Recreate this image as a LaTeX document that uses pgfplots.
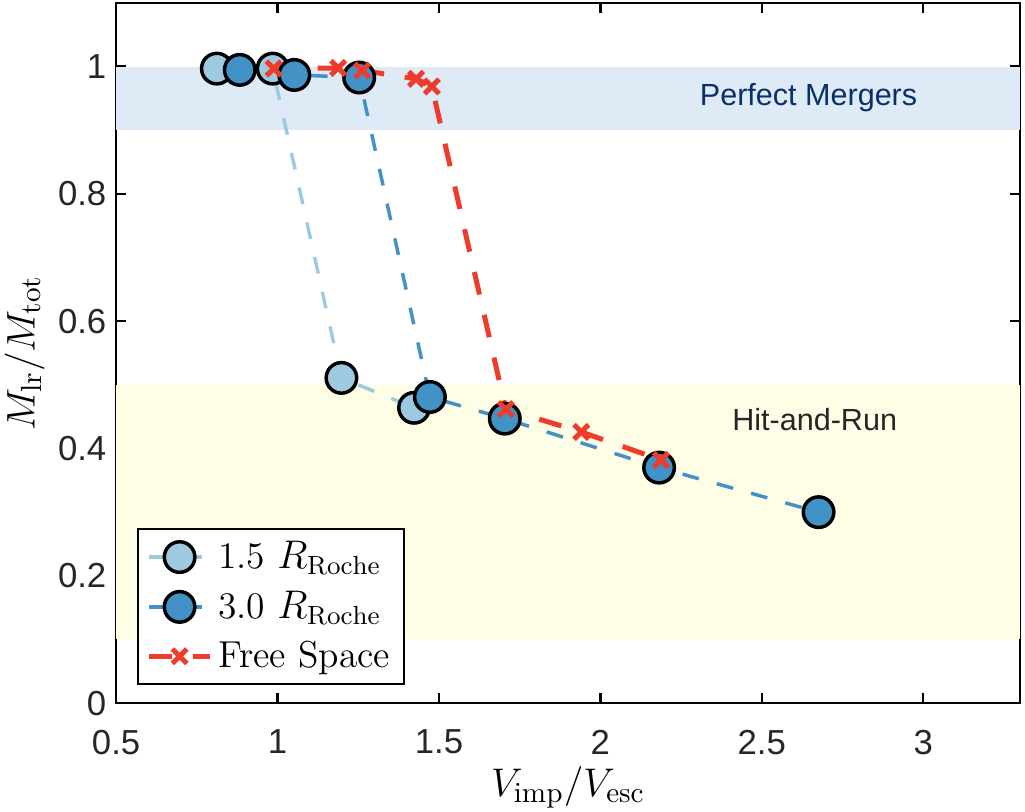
\documentclass[border=0pt]{standalone}
\usepackage{fontspec}
\usepackage{pgfplots}
\pgfplotsset{compat=1.18}
\newfontfamily\helv{Liberation Sans}

\definecolor{lightblue}{RGB}{158,202,225}
\definecolor{darkblue}{RGB}{66,146,198}
\definecolor{freered}{RGB}{239,59,44}
\definecolor{mergeband}{RGB}{222,235,247}
\definecolor{hrband}{RGB}{254,254,230}
\definecolor{mergetext}{RGB}{8,48,107}
\definecolor{hrtext}{RGB}{38,38,38}

\begin{document}
\begin{tikzpicture}
\path[use as bounding box] (-41.8pt,-38.9pt) rectangle (327.2pt,253.1pt);
\begin{axis}[
  scale only axis,
  width=325.4pt, height=252pt,
  xmin=0.5, xmax=3.3, ymin=0, ymax=1.1,
  xtick={0.5,1,1.5,2,2.5,3},
  ytick={0,0.2,0.4,0.6,0.8,1},
  /pgf/number format/assume math mode=true,
  ticklabel style={font=\helv\fontsize{12.5}{15}\selectfont, text=black!85},
  xticklabel style={yshift=-6.2pt},
  tick align=inside,
  major tick length=3.6pt,
  tick style={line width=0.9pt, black},
  axis line style={line width=0.9pt, black},
  xlabel={$V_{\mathrm{imp}}/V_{\mathrm{esc}}$},
  ylabel={$M_{\mathrm{lr}}/M_{\mathrm{tot}}$},
  label style={font=\fontsize{15}{18}\selectfont},
  xlabel style={at={(axis description cs:0.5,-0.1341)}, anchor=base},
  ylabel style={at={(axis description cs:-0.1011,0.5)}, anchor=center},
  legend cell align=left,
  legend image code/.code={%
    \draw[mark repeat=2, mark phase=2, #1]
      plot coordinates {(0pt,0pt) (11pt,0pt) (22pt,0pt)};%
  },
  legend style={
    at={(axis description cs:0,0)}, anchor=south west,
    xshift=7.6pt, yshift=6.5pt,
    draw=black, line width=0.7pt, fill=white,
    font=\fontsize{13.5}{16}\selectfont,
    inner xsep=3pt, inner ysep=2.5pt,
    row sep=2.6pt,
  },
]

% regime bands
\addplot[fill=mergeband, draw=none, forget plot]
  coordinates {(0.5,0.9) (3.3,0.9) (3.3,1.0) (0.5,1.0)} -- cycle;
\addplot[fill=hrband, draw=none, forget plot]
  coordinates {(0.5,0.1) (3.3,0.1) (3.3,0.5) (0.5,0.5)} -- cycle;

\node[font=\helv\fontsize{11}{13}\selectfont, text=mergetext]
  at (axis cs:2.645,0.951) {Perfect Mergers};
\node[font=\helv\fontsize{11}{13}\selectfont, text=hrtext]
  at (axis cs:2.664,0.445) {Hit-and-Run};

% 1.5 Roche radii
\addplot[color=lightblue, line width=1.25pt, dash pattern=on 6.1pt off 6.7pt,
  mark=*, mark size=5.5pt,
  mark options={solid, draw=black, fill=lightblue, line width=1.25pt}]
  coordinates {(0.812,0.997) (0.985,0.997) (1.198,0.511) (1.423,0.464)};
\addlegendentry{1.5 $R_{\mathrm{Roche}}$}

% 3.0 Roche radii
\addplot[color=darkblue, line width=1.25pt, dash pattern=on 6.1pt off 6.7pt,
  mark=*, mark size=5.5pt,
  mark options={solid, draw=black, fill=darkblue, line width=1.25pt}]
  coordinates {(0.883,0.995) (1.052,0.987) (1.253,0.983) (1.472,0.481)
               (1.704,0.447) (2.182,0.370) (2.676,0.300)};
\addlegendentry{3.0 $R_{\mathrm{Roche}}$}

% free space
\addplot[color=freered, line width=1.8pt, dash pattern=on 8.3pt off 7.5pt,
  mark=x, mark size=3.7pt,
  mark options={solid, line width=1.8pt}]
  coordinates {(0.988,0.997) (1.188,0.998) (1.262,0.994) (1.429,0.981)
               (1.478,0.969) (1.707,0.462) (1.941,0.426) (2.188,0.382)};
\addlegendentry{Free Space}

\end{axis}
\end{tikzpicture}
\end{document}
